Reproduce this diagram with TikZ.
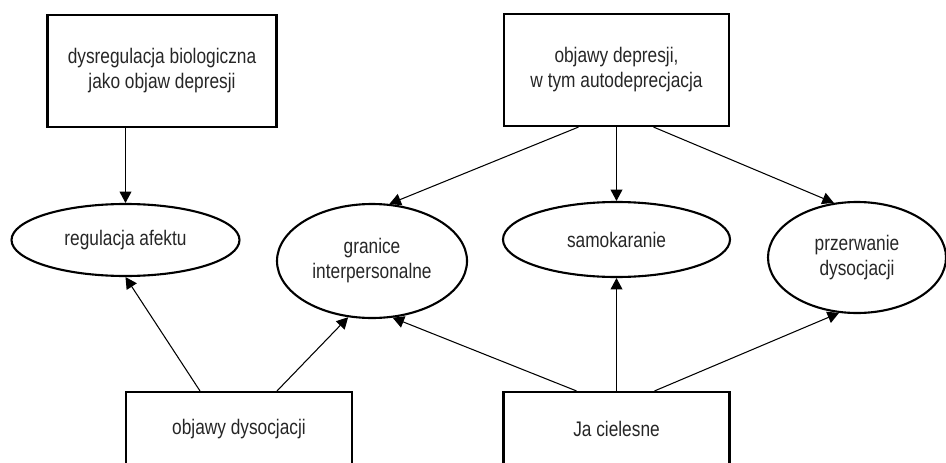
\documentclass[tikz,border=0pt]{standalone}
\usepackage{fontspec}
\setmainfont[FakeStretch=0.82]{Liberation Sans}
\usetikzlibrary{arrows.meta,positioning,calc,shapes}

\begin{document}
\begin{tikzpicture}[
    every node/.style={font=\fontsize{12pt}{14.2pt}\selectfont, align=center, text=black!85},
    box/.style={rectangle, draw, line width=1.2pt, minimum width=4.52cm, minimum height=2.24cm, inner sep=0pt},
    lowbox/.style={box, minimum height=1.48cm},
    oval/.style={ellipse, draw, line width=1.2pt, inner sep=0pt},
    link/.style={-{Triangle[length=6.5pt,width=6.8pt]}, line width=0.6pt},
]
    \useasboundingbox (0,0) rectangle (18.92,-9.24);

    % Top row: depression
    \node[box, minimum width=4.58cm] (dysreg) at (3.24,-1.42) {dysregulacja biologiczna\\jako objaw depresji};
    \node[box, minimum width=4.5cm] (depr) at (12.33,-1.40) {objawy depresji,\\w tym autodeprecjacja};

    % Middle row: functions
    \node[oval, minimum width=4.56cm, minimum height=1.44cm] (afekt) at (2.51,-4.80) {regulacja afektu};
    \node[oval, minimum width=3.8cm, minimum height=2.28cm] (granice) at (7.44,-5.22) {granice\\interpersonalne};
    \node[oval, minimum width=4.54cm, minimum height=1.5cm] (kara) at (12.33,-4.79) {samokaranie};
    \node[oval, minimum width=3.56cm, minimum height=2.22cm] (przerw) at (17.14,-5.15) {przerwanie\\dysocjacji};

    % Bottom row: dissociation and body
    \node[lowbox] (dysoc) at (4.78,-8.58) {objawy dysocjacji};
    \node[lowbox] (cialo) at (12.33,-8.58) {Ja cielesne};

    % Edges from the top
    \draw[link] (afekt.north |- dysreg.south) -- (afekt.north);
    \draw[link] ($(depr.south)+(-0.76,0)$) -- (granice.73);
    \draw[link] (depr.south) -- (kara.north);
    \draw[link] ($(depr.south)+(0.74,0)$) -- (przerw.113);

    % Edges from the bottom
    \draw[link] ($(dysoc.north)+(-0.78,0)$) -- (afekt.south);
    \draw[link] ($(dysoc.north)+(0.76,0)$) -- (granice.247);
    \draw[link] ($(cialo.north)+(-0.80,0)$) -- (granice.290);
    \draw[link] (cialo.north) -- (kara.south);
    \draw[link] ($(cialo.north)+(0.76,0)$) -- (przerw.252);
\end{tikzpicture}
\end{document}
